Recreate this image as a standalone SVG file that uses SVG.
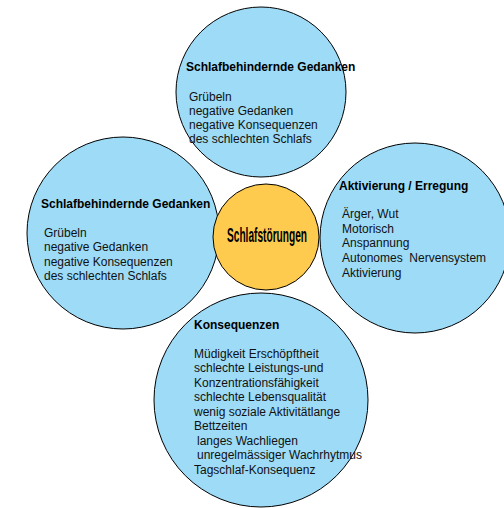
<svg xmlns="http://www.w3.org/2000/svg" width="504" height="508" viewBox="0 0 504 508">
<style>
.b{fill:#9ddbf7;stroke:#000;stroke-width:1}
.y{fill:#fecb4f;stroke:#000;stroke-width:1}
.t{font-family:"Liberation Sans",Arial,sans-serif;font-size:12px;font-weight:bold;fill:#000}
.x{font-family:"Liberation Sans",Arial,sans-serif;font-size:12px;fill:#111}
.c{font-family:"Liberation Sans Narrow","Liberation Sans",Arial,sans-serif;font-size:20px;font-weight:bold;fill:#000}
</style>
<rect width="504" height="508" fill="#fff"/>
<g id="connectors"/>
<g id="top">
<circle class="b" cx="261" cy="92" r="85"/>
<text class="t" x="186" y="71">Schlafbehindernde Gedanken</text>
<text class="x" x="189" y="101">Grübeln</text>
<text class="x" x="189" y="115">negative Gedanken</text>
<text class="x" x="189" y="129">negative Konsequenzen</text>
<text class="x" x="189" y="143">des schlechten Schlafs</text>
</g>
<g id="left">
<circle class="b" cx="123" cy="233" r="96"/>
<text class="t" x="41" y="208">Schlafbehindernde Gedanken</text>
<text class="x" x="44" y="237">Grübeln</text>
<text class="x" x="44" y="251.3">negative Gedanken</text>
<text class="x" x="44" y="265.6">negative Konsequenzen</text>
<text class="x" x="44" y="280">des schlechten Schlafs</text>
</g>
<g id="right">
<circle class="b" cx="415" cy="238" r="95"/>
<text class="t" x="339" y="190">Aktivierung / Erregung</text>
<text class="x" x="342" y="218">Ärger, Wut</text>
<text class="x" x="342" y="232.7">Motorisch</text>
<text class="x" x="342" y="247.4">Anspannung</text>
<text class="x" x="342" y="262" xml:space="preserve">Autonomes  Nervensystem</text>
<text class="x" x="342" y="276.7">Aktivierung</text>
</g>
<g id="bottom">
<circle class="b" cx="261" cy="400" r="107"/>
<text class="t" x="194" y="329">Konsequenzen</text>
<text class="x" x="194" y="357.5">Müdigkeit Erschöpftheit</text>
<text class="x" x="194" y="372">schlechte Leistungs-und</text>
<text class="x" x="194" y="386.5">Konzentrationsfähigkeit</text>
<text class="x" x="194" y="401">schlechte Lebensqualität</text>
<text class="x" x="194" y="415.5">wenig soziale Aktivitätlange</text>
<text class="x" x="194" y="430">Bettzeiten</text>
<text class="x" x="197" y="444.5">langes Wachliegen</text>
<text class="x" x="197" y="459">unregelmässiger Wachrhytmus</text>
<text class="x" x="194" y="473.5">Tagschlaf-Konsequenz</text>
</g>
<g id="center">
<circle class="y" cx="266" cy="237" r="53"/>
<text class="c" x="227" y="241.5" textLength="80" lengthAdjust="spacingAndGlyphs">Schlafstörungen</text>
</g>
</svg>
